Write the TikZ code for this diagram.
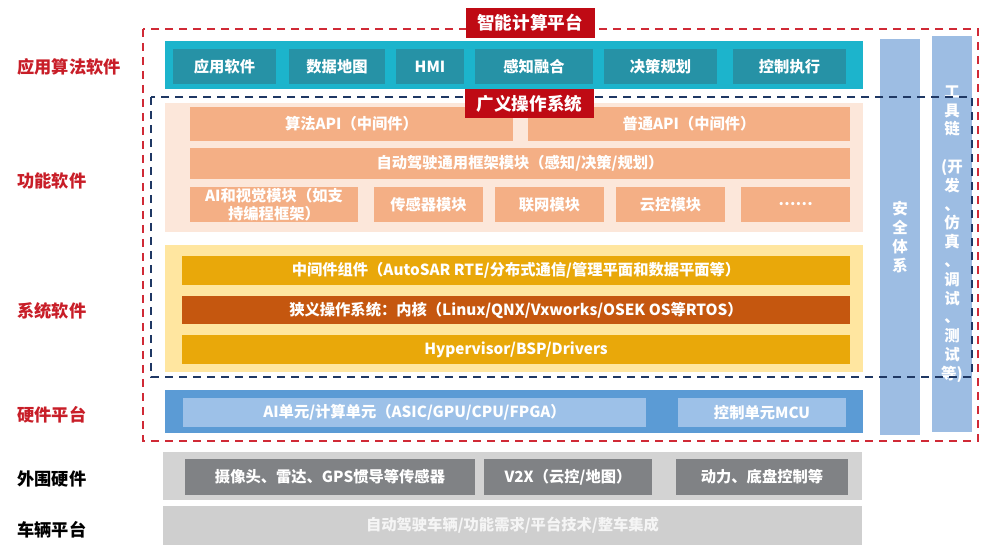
\documentclass[tikz,border=0pt]{standalone}
\usepackage{fontspec}
\setmainfont{Noto Sans CJK SC}
\definecolor{lblred}{HTML}{C81E28}
\definecolor{tagred}{HTML}{BF0A14}
\definecolor{redline}{HTML}{D02A36}
\definecolor{navyline}{HTML}{1F3864}
\definecolor{tealband}{HTML}{1CB4CC}
\definecolor{tealbox}{HTML}{2692A6}
\definecolor{peachband}{HTML}{FCE7DA}
\definecolor{peachbox}{HTML}{F4AF85}
\definecolor{yellowband}{HTML}{FFE6A0}
\definecolor{goldbox}{HTML}{E9A80A}
\definecolor{rustbox}{HTML}{C5570F}
\definecolor{hwband}{HTML}{5B9BD5}
\definecolor{hwbox}{HTML}{9DC1E8}
\definecolor{colblue}{HTML}{9DBDE3}
\definecolor{grayband}{HTML}{D3D3D3}
\definecolor{graybox}{HTML}{808285}
\definecolor{carband}{HTML}{CFCFCF}
\tikzset{
  layer/.style={anchor=west,inner sep=0pt,font=\fontsize{9.8}{11}\selectfont\bfseries},
  band/.style={shape=rectangle,inner sep=0pt},
  blk/.style={shape=rectangle,inner sep=1pt,text=white,font=\fontsize{8.7}{10}\selectfont\bfseries},
  tag/.style={shape=rectangle,fill=tagred,text=white,inner sep=0pt,minimum width=2.58cm,font=\fontsize{10}{12}\selectfont\bfseries},
  col/.style={shape=rectangle,fill=colblue,inner sep=0pt,minimum width=0.8cm,minimum height=7.92cm,text=white,align=center,font=\fontsize{8.8}{10.7}\selectfont\bfseries},
  dashframe/.style={dash pattern=on 1.6mm off 1.2mm,line width=1.5pt}
}
\begin{document}
\begin{tikzpicture}
\useasboundingbox (0,0) rectangle (20,-11.12);
\draw[redline,dashframe] (2.86,-0.58) rectangle (19.56,-8.82);
% layer names
\node[layer,text=lblred](Lapp) at (0.34,-1.34){应用算法软件};
\node[layer,text=lblred](Lfun) at (0.34,-3.62){功能软件};
\node[layer,text=lblred](Lsys) at (0.34,-6.22){系统软件};
\node[layer,text=lblred](Lhw) at (0.34,-8.3){硬件平台};
\node[layer,text=black](Lper) at (0.34,-9.58){外围硬件};
\node[layer,text=black](Lcar) at (0.34,-10.6){车辆平台};
% application software
\node[band,fill=tealband,minimum width=13.96cm,minimum height=0.96cm](App) at (10.28,-1.3){};
\node[blk,fill=tealbox,minimum width=2.06cm,minimum height=0.7cm](A1) at (4.49,-1.33){应用软件};
\node[blk,fill=tealbox,minimum width=1.92cm,minimum height=0.7cm](A2) at (6.74,-1.33){数据地图};
\node[blk,fill=tealbox,minimum width=1.36cm,minimum height=0.7cm](A3) at (8.6,-1.33){HMI};
\node[blk,fill=tealbox,minimum width=2.36cm,minimum height=0.7cm](A4) at (10.68,-1.33){感知融合};
\node[blk,fill=tealbox,minimum width=2.26cm,minimum height=0.7cm](A5) at (13.21,-1.33){决策规划};
\node[blk,fill=tealbox,minimum width=2.26cm,minimum height=0.7cm](A6) at (15.79,-1.33){控制执行};
% function software
\node[band,fill=peachband,minimum width=13.96cm,minimum height=2.58cm](Fun) at (10.28,-3.35){};
\node[blk,fill=peachbox,minimum width=6.46cm,minimum height=0.68cm](F1) at (7.03,-2.48){算法API（中间件）};
\node[blk,fill=peachbox,minimum width=6.44cm,minimum height=0.68cm](F2) at (13.78,-2.48){普通API（中间件）};
\node[blk,fill=peachbox,minimum width=13.2cm,minimum height=0.62cm](F3) at (10.4,-3.27){自动驾驶通用框架模块（感知/决策/规划）};
\node[blk,fill=peachbox,minimum width=3.36cm,minimum height=0.7cm,align=center](F4) at (5.48,-4.09){AI和视觉模块（如支\\持编程框架）};
\node[blk,fill=peachbox,minimum width=2.18cm,minimum height=0.7cm](F5) at (8.57,-4.09){传感器模块};
\node[blk,fill=peachbox,minimum width=2.18cm,minimum height=0.7cm](F6) at (10.99,-4.09){联网模块};
\node[blk,fill=peachbox,minimum width=2.18cm,minimum height=0.7cm](F7) at (13.41,-4.09){云控模块};
\node[blk,fill=peachbox,minimum width=2.18cm,minimum height=0.7cm](F8) at (15.91,-4.09){……};
% system software
\node[band,fill=yellowband,minimum width=13.96cm,minimum height=2.54cm](Sys) at (10.28,-6.17){};
\node[blk,fill=goldbox,minimum width=13.36cm,minimum height=0.58cm](S1) at (10.32,-5.41){中间件组件（AutoSAR RTE/分布式通信/管理平面和数据平面等）};
\node[blk,fill=rustbox,minimum width=13.36cm,minimum height=0.56cm](S2) at (10.32,-6.2){狭义操作系统：内核（Linux/QNX/Vxworks/OSEK OS等RTOS）};
\node[blk,fill=goldbox,minimum width=13.36cm,minimum height=0.58cm](S3) at (10.32,-6.99){Hypervisor/BSP/Drivers};
% hardware platform
\node[band,fill=hwband,minimum width=13.96cm,minimum height=0.86cm](Hw) at (10.28,-8.23){};
\node[blk,fill=hwbox,minimum width=9.26cm,minimum height=0.58cm](H1) at (8.29,-8.25){AI单元/计算单元（ASIC/GPU/CPU/FPGA）};
\node[blk,fill=hwbox,minimum width=3.36cm,minimum height=0.58cm](H2) at (15.24,-8.25){控制单元MCU};
% side columns
\node[col](Safe) at (18,-4.74){安\\全\\体\\系};
\node[col](Tool) at (19.04,-4.68){工\\具\\链\\[10.7pt](开\\发\\、\\仿\\真\\、\\调\\试\\、\\测\\试\\等)};
% peripheral hardware and vehicle
\node[band,fill=grayband,minimum width=13.98cm,minimum height=0.96cm](Per) at (10.25,-9.52){};
\node[blk,fill=graybox,minimum width=5.8cm,minimum height=0.72cm](P1) at (6.6,-9.54){摄像头、雷达、GPS惯导等传感器};
\node[blk,fill=graybox,minimum width=3.36cm,minimum height=0.72cm](P2) at (11.36,-9.54){V2X（云控/地图）};
\node[blk,fill=graybox,minimum width=3.44cm,minimum height=0.72cm](P3) at (15.24,-9.54){动力、底盘控制等};
\node[blk,fill=carband,text=white!92!gray,minimum width=13.98cm,minimum height=0.78cm](Car) at (10.25,-10.51){自动驾驶车辆/功能需求/平台技术/整车集成};
% frames and titles
\draw[navyline,dashframe] (3.02,-1.94) rectangle (19.44,-7.54);
\node[tag,minimum height=0.6cm](T1) at (10.6,-0.46){智能计算平台};
\node[tag,minimum height=0.58cm](T2) at (10.59,-2.07){广义操作系统};
\end{tikzpicture}
\end{document}
